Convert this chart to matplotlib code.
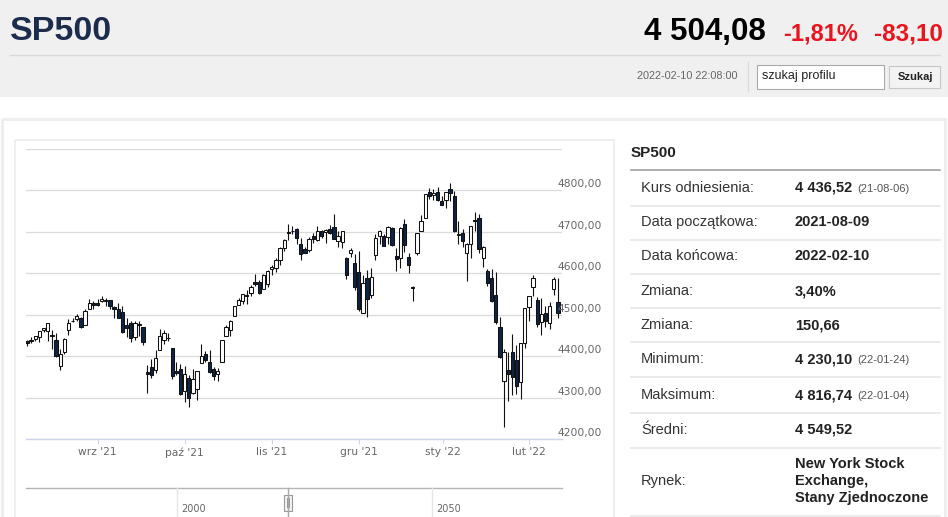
import numpy as np
import pandas as pd
import matplotlib
matplotlib.use("Agg")
import matplotlib.pyplot as plt
from matplotlib.patches import Rectangle
from matplotlib.transforms import ScaledTranslation

plt.rcParams['font.family'] = ['Liberation Sans', 'DejaVu Sans']

# trading days shown on the chart (NYSE holidays and one missing session removed)
skip = ['2021-09-06', '2021-11-25', '2021-12-21', '2021-12-24', '2022-01-17']
dates = pd.bdate_range('2021-08-09', '2022-02-10')
dates = dates[~dates.isin(pd.to_datetime(skip))]

opens = [4437, 4437, 4442, 4446, 4464, 4461, 4452, 4440, 4375, 4410, 4464, 4484, 4490, 4493, 4474, 4514, 4529,
         4528, 4534, 4532, 4536, 4518, 4513, 4506, 4474, 4479, 4447, 4477, 4470, 4362, 4374, 4367, 4416, 4439, 4443, 4419, 4363, 4370,
         4317, 4348, 4310, 4320, 4384, 4406, 4386, 4368, 4358, 4387, 4448, 4464, 4498, 4524, 4532, 4547, 4553, 4579, 4580, 4563, 4573,
         4611, 4613, 4631, 4662, 4699, 4702, 4707, 4670, 4659, 4655, 4689, 4680, 4702, 4700, 4708, 4712, 4679, 4675, 4636, 4648, 4626,
         4602, 4504, 4589, 4548, 4645, 4690, 4691, 4687, 4710, 4642, 4636, 4719, 4640, 4564, 4650, 4703, 4733, 4795, 4788, 4795, 4775,
         4778, 4804, 4787, 4693, 4698, 4648, 4670, 4728, 4733, 4638, 4606, 4588, 4547, 4471, 4340, 4366, 4410, 4390, 4337, 4431,
         4519, 4566, 4535, 4482, 4505, 4480, 4563, 4530]
highs = [4439, 4446, 4449, 4461, 4468, 4480, 4462, 4455, 4418, 4444, 4489, 4492, 4502, 4495, 4513, 4537, 4532,
         4537, 4545, 4541, 4536, 4521, 4529, 4520, 4492, 4485, 4486, 4485, 4471, 4378, 4394, 4416, 4466, 4463, 4457, 4419, 4385, 4382,
         4375, 4355, 4369, 4365, 4429, 4412, 4415, 4374, 4372, 4439, 4476, 4487, 4520, 4540, 4551, 4559, 4572, 4598, 4584, 4598, 4608,
         4621, 4636, 4664, 4683, 4719, 4714, 4709, 4685, 4664, 4688, 4697, 4714, 4705, 4708, 4717, 4744, 4702, 4702, 4640, 4662, 4646,
         4653, 4595, 4608, 4612, 4694, 4705, 4695, 4713, 4711, 4660, 4712, 4731, 4650, 4570, 4697, 4740, 4791, 4807, 4804, 4808, 4787,
         4797, 4816.74, 4798, 4725, 4708, 4673, 4714, 4749, 4744, 4666, 4610, 4611, 4602, 4495, 4418, 4411, 4453, 4428, 4432, 4517,
         4546, 4595, 4542, 4540, 4521, 4531, 4590, 4588]
lows = [4424, 4431, 4436, 4435, 4458, 4437, 4418, 4397, 4367, 4406, 4450, 4482, 4486, 4468, 4474, 4514, 4513,
        4522, 4531, 4522, 4513, 4493, 4493, 4457, 4446, 4435, 4438, 4448, 4427, 4310, 4347, 4359, 4416, 4430, 4437, 4346, 4355, 4306,
        4289, 4278, 4309, 4293, 4384, 4386, 4360, 4342, 4341, 4387, 4448, 4448, 4496, 4524, 4526, 4525, 4546, 4569, 4551, 4562, 4567,
        4595, 4604, 4621, 4654, 4681, 4694, 4670, 4631, 4648, 4651, 4672, 4679, 4686, 4673, 4694, 4682, 4663, 4660, 4585, 4640, 4560,
        4510, 4504, 4495, 4540, 4632, 4670, 4665, 4670, 4666, 4606, 4612, 4651, 4600, 4533, 4645, 4703, 4733, 4780, 4778, 4775, 4765,
        4758, 4774, 4699, 4671, 4663, 4582, 4638, 4701, 4650, 4614, 4569, 4531, 4477, 4395, 4230.10, 4292, 4305, 4309, 4296, 4420,
        4484, 4545, 4470, 4452, 4471, 4465, 4547, 4492]
closes = [4432, 4437, 4448, 4461, 4468, 4480, 4448, 4400, 4406, 4442, 4480, 4486, 4496, 4470, 4509, 4529, 4523,
          4524, 4537, 4535, 4520, 4514, 4493, 4459, 4469, 4443, 4481, 4474, 4433, 4358, 4354, 4396, 4449, 4455, 4443, 4353, 4359, 4308,
          4357, 4300, 4346, 4364, 4400, 4391, 4361, 4351, 4364, 4438, 4471, 4486, 4520, 4536, 4550, 4545, 4566, 4575, 4552, 4596, 4605,
          4614, 4631, 4661, 4680, 4698, 4702, 4685, 4647, 4649, 4683, 4683, 4701, 4689, 4705, 4698, 4683, 4691, 4701, 4595, 4655, 4567,
          4513, 4577, 4538, 4592, 4686, 4701, 4667, 4712, 4669, 4634, 4709, 4668, 4621, 4568, 4697, 4726, 4791, 4786, 4793, 4778, 4766,
          4796, 4794, 4701, 4696, 4677, 4670, 4713, 4726, 4659, 4663, 4577, 4533, 4483, 4398, 4410, 4357, 4350, 4327, 4432, 4516,
          4546, 4589, 4477, 4501, 4484, 4521, 4587, 4504]

month_starts = ['2021-09-01', '2021-10-01', '2021-11-01', '2021-12-01', '2022-01-01', '2022-02-01']
month_labels = ["wrz '21", "paź '21", "lis '21", "gru '21", "sty '22", "lut '22"]
price_levels = [4200, 4300, 4400, 4500, 4600, 4700, 4800]

table_labels = ['Kurs odniesienia:', 'Data początkowa:', 'Data końcowa:', 'Zmiana:', 'Zmiana:',
                'Minimum:', 'Maksimum:', 'Średni:', 'Rynek:']
table_values = ['4 436,52', '2021-08-09', '2022-02-10', '3,40%', '150,66',
                '4 230,10', '4 816,74', '4 549,52', 'New York Stock\nExchange,\nStany Zjednoczone']
table_notes = ['(21-08-06)', '', '', '', '', '(22-01-24)', '(22-01-04)', '', '']

o = np.array(opens, float)
h = np.array(highs, float)
l = np.array(lows, float)
c = np.array(closes, float)
idx = np.arange(len(dates))

fig = plt.figure(figsize=(9.48, 5.17), dpi=100)

# page in pixel coordinates
page = fig.add_axes([0, 0, 1, 1])
page.set_xlim(0, 948)
page.set_ylim(517, 0)
page.axis('off')

page.add_patch(Rectangle((0, 0), 948, 97, facecolor='#f0f0f0', edgecolor='none'))
page.plot([10, 940], [54.5, 54.5], color='#d9d9d9', lw=1)
page.text(10, 40, 'SP500', fontsize=24.5, fontweight='bold', color='#1c2c4c', va='baseline')
page.text(766, 40, '4 504,08', fontsize=22.5, fontweight='bold', color='black', va='baseline', ha='right')
page.text(783, 40, '-1,81%', fontsize=17, fontweight='bold', color='#e8151e', va='baseline')
page.text(943, 40, '-83,10', fontsize=17.5, fontweight='bold', color='#e8151e', va='baseline', ha='right')
page.text(738, 76, '2022-02-10 22:08:00', fontsize=7.8, color='#666666', va='center', ha='right')
page.plot([748.5, 748.5], [62, 91], color='#dcdcdc', lw=1)
page.add_patch(Rectangle((757.5, 64.5), 127, 24, facecolor='white', edgecolor='#a9a9a9', lw=0.8))
page.text(762, 76.5, 'szukaj profilu', fontsize=9, color='#222222', va='center')
page.add_patch(Rectangle((889.5, 65.5), 51, 22, facecolor='#f3f3f3', edgecolor='#c8c8c8', lw=0.8))
page.text(915, 76.5, 'Szukaj', fontsize=8, fontweight='bold', color='#222222', va='center', ha='center')

# panel frames
page.add_patch(Rectangle((2.5, 118.5), 943, 420, facecolor='none', edgecolor='#eeeeee', lw=2.2))
page.add_patch(Rectangle((15.5, 139.5), 599, 400, facecolor='none', edgecolor='#ebebeb', lw=1.2))

# navigator strip
page.plot([26, 562], [487.5, 487.5], color='#b5b5b5', lw=1)
for xg, lab in [(177.5, '2000'), (432.5, '2050')]:
    page.plot([xg, xg], [488, 517], color='#e6e6e6', lw=1)
    page.text(xg + 4, 509, lab, fontsize=7, color='#666666', va='center', family='DejaVu Sans')
page.plot([288.5, 288.5], [488, 517], color='#a8a8a8', lw=1)
page.add_patch(Rectangle((284.5, 494.5), 8, 16, facecolor='#f2f2f2', edgecolor='#999999', lw=0.8))
page.plot([287.5, 287.5], [498, 507], color='#999999', lw=0.7)
page.plot([289.5, 289.5], [498, 507], color='#999999', lw=0.7)

# right info table
page.text(631, 157, 'SP500', fontsize=11, fontweight='bold', color='#222222', va='baseline')
page.plot([631, 940], [169.5, 169.5], color='#a0a0a0', lw=1.2)
row_y = [188, 222, 256, 291, 325, 359, 395, 430, 481]
for yl in [205.5, 239.5, 273.5, 307.5, 341.5, 376.5, 412.5, 447.5, 516]:
    page.plot([631, 940], [yl, yl], color='#e6e6e6', lw=1.2)
for y, lab, val, note in zip(row_y, table_labels, table_values, table_notes):
    page.text(641, y, lab, fontsize=10.5, color='#333333', va='center')
    parts = val.split('\n')
    for k, part in enumerate(parts):
        page.text(795, y + (k - (len(parts) - 1) / 2) * 17, part, fontsize=10.5,
                  fontweight='bold', color='#222222', va='center')
    if note:
        page.text(857, y + 1, note, fontsize=8, color='#555555', va='center')

# candlestick chart
ax = fig.add_axes([26 / 948, (517 - 439) / 517, 536 / 948, 290 / 517])
ax.set_facecolor('none')
ax.set_xlim(-0.24, 128.98)
ax.set_ylim(4200, 4900)

up = c >= o
ax.vlines(idx, l, h, color='#111111', lw=0.8, zorder=2)
ax.bar(idx, np.maximum(np.abs(c - o), 0.8), bottom=np.minimum(o, c), width=0.8,
       color=np.where(up, 'white', '#0e2446'), edgecolor='#111111', linewidth=0.75, zorder=3)

ax.set_yticks(range(4200, 4901, 100))
ax.yaxis.grid(True, color='#dadada', lw=0.9)
ax.set_axisbelow(True)
ax.tick_params(axis='y', left=False, labelleft=False)
for s in ['top', 'left', 'right']:
    ax.spines[s].set_visible(False)
ax.spines['bottom'].set_color('#ccd6eb')
ax.spines['bottom'].set_linewidth(1)

tick_pos = np.interp(pd.to_datetime(month_starts).map(pd.Timestamp.toordinal),
                     dates.map(pd.Timestamp.toordinal), idx)
ax.set_xticks(tick_pos)
ax.set_xticklabels(month_labels, family='DejaVu Sans')
ax.tick_params(axis='x', length=3.6, width=0.8, color='#ccd6eb', labelcolor='#666666',
               labelsize=7.7, pad=2.5)

lift = ax.get_yaxis_transform() + ScaledTranslation(0, 6 / 100, fig.dpi_scale_trans)
for v in price_levels:
    ax.text(0.9907, v, f'{v},00', transform=lift, ha='left', va='center',
            fontsize=7.7, color='#666666', family='DejaVu Sans')

fig.savefig('out.png', dpi=100)
